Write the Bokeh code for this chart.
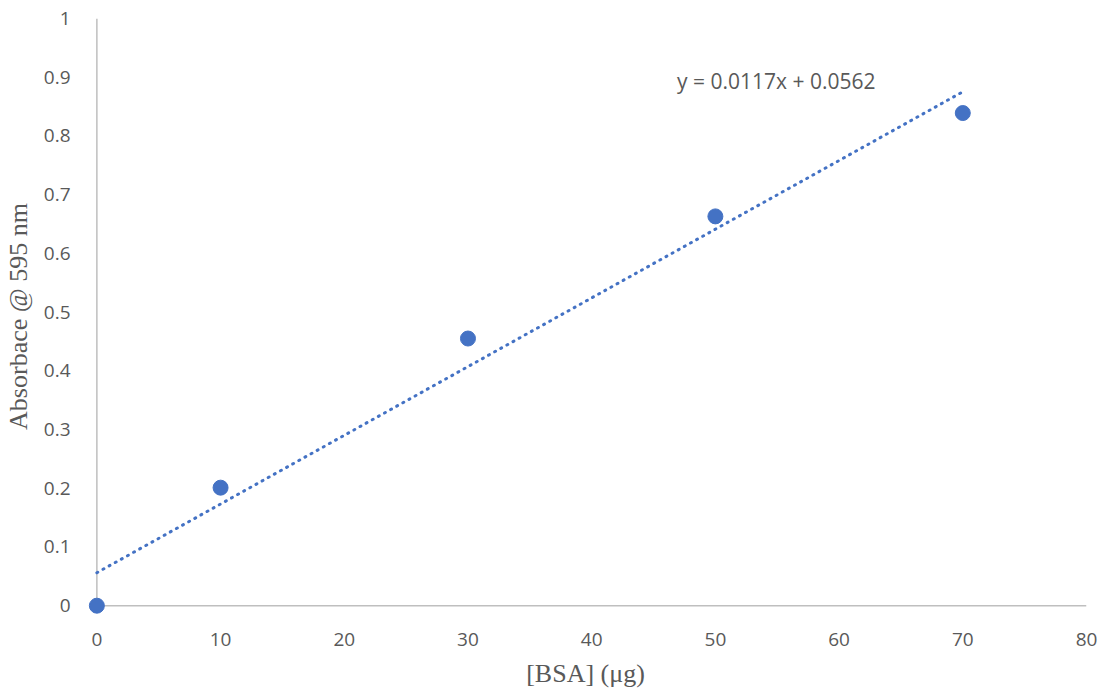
from bokeh.plotting import figure
from bokeh.models import Range1d, Label, ColumnDataSource, FixedTicker
from bokeh.embed import file_html
from bokeh.resources import INLINE

# Data
bsa_ug = [0, 10, 30, 50, 70]
absorbance = [0.0, 0.201, 0.455, 0.663, 0.839]
fit_slope = 0.0117
fit_intercept = 0.0562
x_ticks = [0, 10, 20, 30, 40, 50, 60, 70, 80]
y_ticks = [0, 0.1, 0.2, 0.3, 0.4, 0.5, 0.6, 0.7, 0.8, 0.9, 1]
x_min, x_max = 0, 80
y_min, y_max = 0, 1

BLUE = "#4472C4"
GRAY = "#595959"
AXIS = "#BFBFBF"
TICK_FONT = "Open Sans"
TITLE_FONT = "Liberation Serif"

p = figure(width=1105, height=691, output_backend="svg", toolbar_location=None,
           x_range=Range1d(x_min - 1, x_max), y_range=Range1d(y_min - 0.015, y_max),
           min_border_left=84, min_border_right=19, min_border_top=18, min_border_bottom=77)
p.outline_line_color = None
p.grid.visible = False

# axis lines at x=0 and y=0
p.segment(x0=[x_min, x_min], y0=[y_min, y_min], x1=[x_min, x_max], y1=[y_max, y_min],
          line_color=AXIS, line_width=1.5)

# trend line (linear fit shown in the label), spanning data range
x0, x1 = min(bsa_ug), max(bsa_ug)
trend = ColumnDataSource(dict(x=[x0, x1], y=[fit_intercept + fit_slope * x0, fit_intercept + fit_slope * x1]))
p.line("x", "y", source=trend, line_color=BLUE, line_width=3, line_dash="1 6", line_cap="round")

p.scatter(bsa_ug, absorbance, size=15, fill_color=BLUE, line_color=BLUE)

eq = Label(x=46.9, y=0.894, text=f"y = {fit_slope}x + {fit_intercept}", text_font=TICK_FONT,
           text_font_size="21px", text_color=GRAY, text_baseline="middle", text_align="left")
p.add_layout(eq)

for ax in (p.xaxis[0], p.yaxis[0]):
    ax.axis_line_color = None
    ax.major_tick_line_color = None
    ax.minor_tick_line_color = None
    ax.major_label_text_font = TICK_FONT
    ax.major_label_text_font_size = "19px"
    ax.major_label_text_color = GRAY
    ax.axis_label_text_font = TITLE_FONT
    ax.axis_label_text_font_size = "26px"
    ax.axis_label_text_color = GRAY
    ax.axis_label_text_font_style = "normal"

p.xaxis.ticker = FixedTicker(ticks=x_ticks)
p.yaxis.ticker = FixedTicker(ticks=y_ticks)
p.yaxis.major_label_overrides = {0: "0", 1: "1"}
p.xaxis.major_label_standoff = 12
p.yaxis.major_label_standoff = 8
p.xaxis.axis_label_standoff = 10
p.yaxis.axis_label_standoff = 8
p.xaxis.axis_label = "[BSA] (μg)"
p.yaxis.axis_label = "Absorbace @ 595 nm"

open("out.html", "w").write(file_html(p, INLINE))
